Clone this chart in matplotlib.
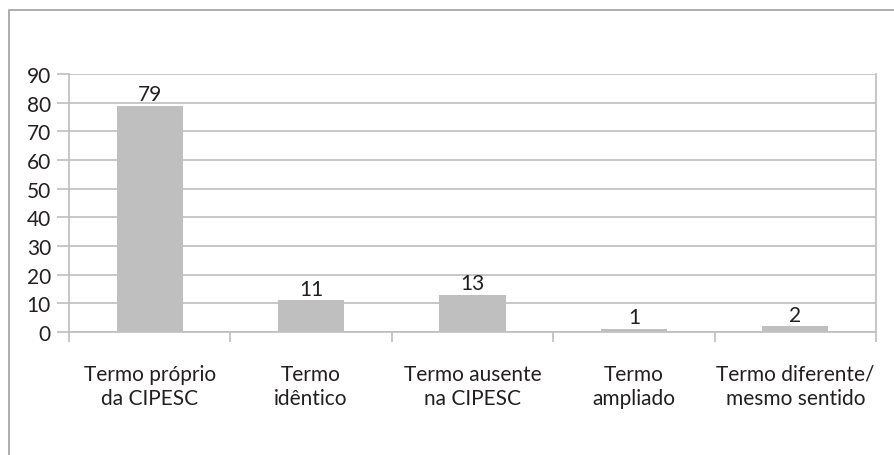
#!/usr/bin/env python3
"""Bar chart: distribuição dos termos em relação à CIPESC."""
import matplotlib.pyplot as plt
from matplotlib.patches import Rectangle

categories = ['Termo próprio\nda CIPESC', 'Termo\nidêntico', 'Termo ausente\nna CIPESC',
              'Termo\nampliado', 'Termo diferente/\nmesmo sentido']
values = [79, 11, 13, 1, 2]
yticks = [0, 10, 20, 30, 40, 50, 60, 70, 80, 90]

plt.rcParams['font.family'] = ['Lato', 'DejaVu Sans']
text_color = '#231F20'
grid_color = '#BEBEBE'
bar_color = '#BFBFBF'
fs = 15

fig = plt.figure(figsize=(8.94, 4.56), dpi=100)
ax = fig.add_axes([69/894, 1 - 333/456, (876 - 69)/894, (333 - 75)/456])

x = list(range(len(values)))
bars = ax.bar(x, values, width=0.41, color=bar_color, zorder=3)
for b, v in zip(bars, values):
    ax.text(b.get_x() + b.get_width()/2, v + 0.6, str(v), ha='center', va='bottom',
            fontsize=fs, color=text_color)

ax.set_xlim(-0.5, len(values) - 0.5)
ax.set_ylim(0, 90)
ax.set_yticks(yticks)
ax.yaxis.grid(True, color=grid_color, lw=1.2, zorder=0)
ax.tick_params(axis='y', length=9, width=1.2, color=grid_color, labelsize=fs,
               labelcolor=text_color, pad=4)

# boundary ticks on x, labels on minor ticks at the bar centres
ax.set_xticks([i - 0.5 for i in range(len(values) + 1)])
ax.set_xticklabels([])
ax.tick_params(axis='x', which='major', length=7, width=1.2, color=grid_color)
ax.set_xticks(x, minor=True)
ax.set_xticklabels(categories, minor=True, fontsize=fs, color=text_color,
                   linespacing=1.25)
ax.tick_params(axis='x', which='minor', length=0, pad=23)

for side in ['left', 'right', 'bottom']:
    ax.spines[side].set_color(grid_color)
    ax.spines[side].set_linewidth(1.2)
ax.spines['top'].set_visible(False)

# outer frame of the figure (cropped on right and bottom)
fig.patches.append(Rectangle((9/894, -0.05), 1.1, 1 - 11/456 + 0.05,
                             transform=fig.transFigure, fill=False,
                             edgecolor='#A0A0A0', lw=1.2))

fig.savefig('out.png', dpi=100)
